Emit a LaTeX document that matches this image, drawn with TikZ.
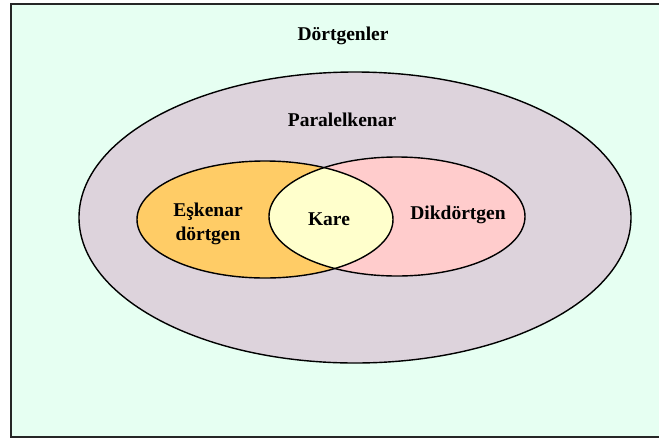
\documentclass[tikz,border=0pt]{standalone}
\usepackage{fontspec}
\setmainfont{Liberation Serif}
\definecolor{zemin}{HTML}{E6FFF2}
\definecolor{paralel}{HTML}{DDD3DC}
\definecolor{eskenar}{HTML}{FFCC66}
\definecolor{dikdort}{HTML}{FFCCCC}
\definecolor{kare}{HTML}{FFFFCC}
\tikzset{
  etiket/.style={font=\fontsize{19.5}{24.5}\selectfont\bfseries, inner sep=0pt, align=center},
  kume/.style={draw=black, line width=1.4pt}
}
\begin{document}
\begin{tikzpicture}[x=1pt, y=-1pt]
\useasboundingbox (0,0) rectangle (659,440);
\clip (0,0) rectangle (659,440);

% dortgenler
\draw [fill=zemin, draw=black!85, line width=2pt] (11,4) rectangle (670,437);

% paralelkenar
\draw [kume, fill=paralel] (355,217.5) ellipse [x radius=276pt, y radius=145.5pt];

\fill [eskenar] (265,219.5) ellipse [x radius=128pt, y radius=58.5pt];
\fill [dikdort] (397,216.5) ellipse [x radius=128pt, y radius=59.5pt];
\begin{scope}
  \clip (265,219.5) ellipse [x radius=128pt, y radius=58.5pt];
  \fill [kare] (397,216.5) ellipse [x radius=128pt, y radius=59.5pt];
\end{scope}
\draw [kume] (265,219.5) ellipse [x radius=128pt, y radius=58.5pt];
\draw [kume] (397,216.5) ellipse [x radius=128pt, y radius=59.5pt];

\node [etiket] (t1) at (343,36) {Dörtgenler};
\node [etiket] (t2) at (342,120) {Paralelkenar};
\node [etiket] (t3) at (208,224) {Eşkenar\\dörtgen};
\node [etiket] (t4) at (329,219) {Kare};
\node [etiket] (t5) at (458,215) {Dikdörtgen};
\end{tikzpicture}
\end{document}
